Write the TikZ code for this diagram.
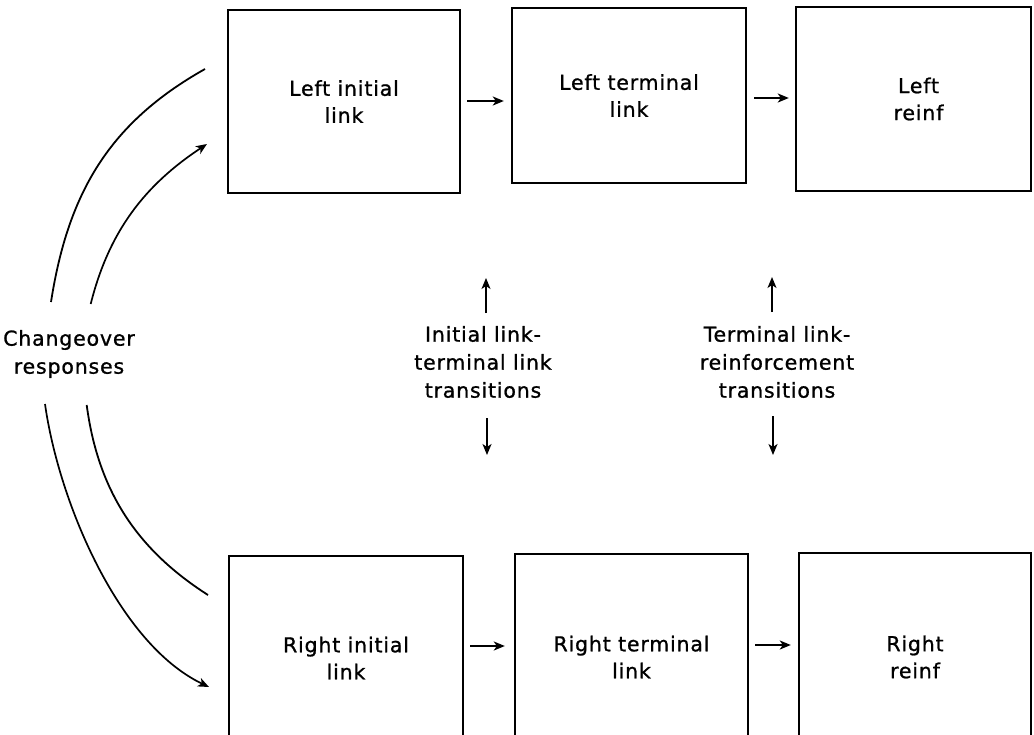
\documentclass[tikz,border=0pt]{standalone}
\usepackage{fontspec}
\setmainfont{DejaVu Sans}[LetterSpace=4.0, FakeBold=1.0]
\usetikzlibrary{arrows.meta}
\newcommand\lblfont{\fontsize{20.5}{27}\selectfont}
\newcommand\midfont{\fontsize{20.5}{28}\selectfont}
\begin{document}
\begin{tikzpicture}[x=1pt,y=-1pt,
  boxnode/.style={draw, line width=2.4pt, inner sep=0pt, align=center, font=\lblfont},
  txt/.style={inner sep=0pt, align=center, font=\midfont},
  arr/.style={-{Stealth[length=11pt,width=9pt,inset=3pt]}, line width=1.7pt},
  curve/.style={line width=1.8pt}]
\useasboundingbox (0,0) rectangle (1034,734);
\clip (0,0) rectangle (1034,734);
\fill[white] (0,0) rectangle (1034,734);

% top row
\node[boxnode, minimum width=232pt, minimum height=183pt] (b1) at (344,101.5) {Left initial\\link};
\node[boxnode, minimum width=234pt, minimum height=175pt] (b2) at (629,95.5) {Left terminal\\link};
\node[boxnode, minimum width=235pt, minimum height=184pt] (b3) at (913.5,99) {\hspace*{10pt}Left\\\hspace*{10pt}reinf};
% bottom row
\node[boxnode, minimum width=234pt, minimum height=204pt] (b4) at (346,658) {Right initial\\link};
\node[boxnode, minimum width=233pt, minimum height=206pt] (b5) at (631.5,657) {Right terminal\\link};
\node[boxnode, minimum width=232pt, minimum height=208pt] (b6) at (915,657) {Right\\reinf};

% horizontal arrows
\draw[arr, shorten <=6pt, shorten >=7pt] (b1.east |- 0,101) -- (b2.west |- 0,101);
\draw[arr, shorten <=7pt, shorten >=6pt] (b2.east |- 0,98) -- (b3.west |- 0,98);
\draw[arr, shorten <=6pt, shorten >=9pt] (b4.east |- 0,646) -- (b5.west |- 0,646);
\draw[arr, shorten <=6pt, shorten >=7pt] (b5.east |- 0,645) -- (b6.west |- 0,645);

% middle texts
\node[txt] (m1) at (483,362) {Initial link-\\terminal link\\transitions};
\node[txt] (m2) at (777,362) {Terminal link-\\reinforcement\\transitions};
\node[txt] (chg) at (69,354) {Changeover\\responses};

\coordinate (m1u0) at (486,313);
\coordinate (m1u1) at (486,278);
\coordinate (m1d0) at (487,418);
\coordinate (m1d1) at (487,455);
\coordinate (m2u0) at (772,312);
\coordinate (m2u1) at (772,277);
\coordinate (m2d0) at (773,416);
\coordinate (m2d1) at (773,455);
\draw[arr] (m1u0) -- (m1u1);
\draw[arr] (m1d0) -- (m1d1);
\draw[arr] (m2u0) -- (m2u1);
\draw[arr] (m2d0) -- (m2d1);

% changeover curves
\coordinate (ot0) at (51,302);
\coordinate (ot1) at (205,69);
\coordinate (it0) at (90.7,304);
\coordinate (it1) at (207,144);
\coordinate (ob0) at (45,404);
\coordinate (ob1) at (209,687);
\coordinate (ib0) at (86.7,405);
\coordinate (ib1) at (208,595);
\draw[curve] (ot0) .. controls (68,193) and (109,123) .. (ot1);
\draw[curve, arr] (it0) .. controls (109,231) and (145,185) .. (it1);
\draw[curve, arr] (ob0) .. controls (59,503) and (119,644) .. (ob1);
\draw[curve] (ib0) .. controls (98,490) and (136,549) .. (ib1);
\end{tikzpicture}
\end{document}
